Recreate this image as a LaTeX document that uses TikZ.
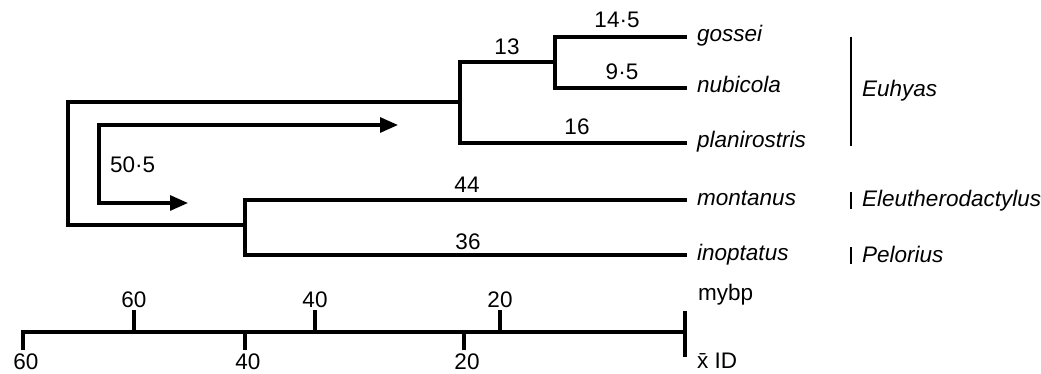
\documentclass[tikz,border=0pt]{standalone}
\usepackage{fontspec}
\setmainfont{Liberation Sans}
\usetikzlibrary{arrows.meta}
\begin{document}
\begin{tikzpicture}[x=1pt,y=-1pt,
  branch/.style={line width=3.1pt,line join=miter,line cap=rect},
  tri/.style={line width=3.1pt,{Triangle[length=18pt,width=15pt]}-{Triangle[length=18pt,width=15pt]}},
  taxon/.style={anchor=base west,inner sep=0pt,font=\fontsize{22.5}{26}\selectfont\itshape},
  num/.style={anchor=base,inner sep=0pt,font=\fontsize{22.5}{26}\selectfont},
  numl/.style={anchor=base west,inner sep=0pt,font=\fontsize{22.5}{26}\selectfont},
  bar/.style={line width=2.6pt}]
\useasboundingbox (0,0) rectangle (1041,374);
% tips
\coordinate (tG) at (685,37);
\coordinate (tN) at (685,88);
\coordinate (tP) at (685,143);
\coordinate (tM) at (685,200);
\coordinate (tI) at (685,255);
% junctions
\coordinate (nGN) at (555,62);
\coordinate (n13) at (460,102);
\coordinate (nMI) at (245,225);
\coordinate (root) at (68,163);
% tree
\draw[branch] (tG) -| (nGN) |- (tN);
\draw[branch] (nGN) -| (n13) |- (tP);
\draw[branch] (tM) -| (nMI) |- (tI);
\draw[branch] (n13) -| (root) |- (nMI);
% arrow
\coordinate (aTop) at (398,125);
\coordinate (aMid) at (99,165);
\coordinate (aBot) at (188,203);
\draw[tri] (aTop) -| (aMid) |- (aBot);
% branch labels
\node[num] (l145) at (617,28) {14·5};
\node[num] (l95) at (622,80) {9·5};
\node[num] (l13) at (507,55) {13};
\node[num] (l16) at (577,135) {16};
\node[num] (l44) at (467,193) {44};
\node[num] (l36) at (468,249) {36};
\node[numl] (l505) at (110,173) {50·5};
% taxa
\node[taxon] (gossei) at (697,42) {gossei};
\node[taxon] (nubicola) at (697,93) {nubicola};
\node[taxon] (planirostris) at (697,148) {planirostris};
\node[taxon] (montanus) at (697,205) {montanus};
\node[taxon] (inoptatus) at (697,260) {inoptatus};
% clade bars
\coordinate (eT) at (851,37); \coordinate (eB) at (851,146);
\draw[bar] (eT) -- (eB);
\node[taxon] (euhyas) at (862,97) {Euhyas};
\coordinate (elT) at (851,192); \coordinate (elB) at (851,209);
\draw[bar] (elT) -- (elB);
\node[taxon] (eleuth) at (862,207) {Eleutherodactylus};
\coordinate (pT) at (851,247); \coordinate (pB) at (851,264);
\draw[bar] (pT) -- (pB);
\node[taxon] (pelorius) at (862,262) {Pelorius};
% scale
\coordinate (sL) at (23,332);
\coordinate (sR) at (685,332);
\draw[branch] (sL) -- (sR);
\coordinate (sRt) at (685,313); \coordinate (sRb) at (685,355);
\draw[branch] (sRt) -- (sRb);
\foreach \x/\t/\n in {134/60/a,315/40/b,500/20/c}{
  \coordinate (u\n) at (\x,312);
  \coordinate (ub\n) at (\x,332);
  \draw[branch] (ub\n) -- (u\n);
  \node[num] (ul\n) at (\x,307) {\t};
}
\foreach \x/\t/\n in {23/60/a,245/40/b,464/20/c}{
  \coordinate (d\n) at (\x,348);
  \coordinate (db\n) at (\x,332);
  \draw[branch] (db\n) -- (d\n);
  \node[num] (dl\n) at (\x+3,369) {\t};
}
\node[numl] (mybp) at (698,300) {mybp};
\node[numl] (xid) at (697,368) {\={x} ID};
\end{tikzpicture}
\end{document}
